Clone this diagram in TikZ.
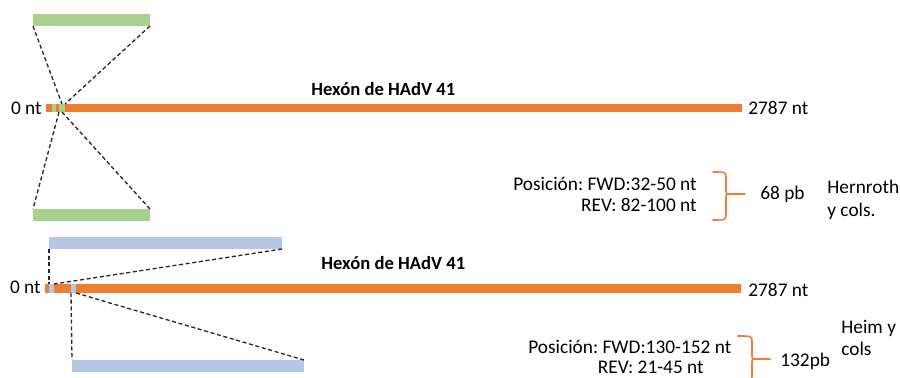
\documentclass[tikz,border=0pt]{standalone}
\usepackage{fontspec}
\setmainfont{Carlito}
\usetikzlibrary{fit}
\frenchspacing

\definecolor{hexorange}{HTML}{ED7D31}
\definecolor{primgreen}{HTML}{A9D18E}
\definecolor{primblue}{HTML}{B4C7E7}

\tikzset{
	block/.style={inner sep=0pt, outer sep=0pt, draw=none},
	dashline/.style={dashed, dash pattern=on 2.3pt off 1.5pt, line width=0.75pt, black!85},
	lbl/.style={inner sep=0pt, font=\fontsize{11}{13}\selectfont},
	title/.style={lbl, font=\fontsize{10.6}{13}\selectfont\bfseries},
	bracestyle/.style={draw=hexorange, line width=0.9pt, line cap=round}
}

\begin{document}
\begin{tikzpicture}[x=0.02cm, y=-0.02cm]
\useasboundingbox (0,0) rectangle (900,378);
\clip (0,0) rectangle (900,378);

% upper gene: Hernroth primers
\node[block, fill=hexorange, fit={(46,104) (742,112)}] (bar1) {};
\node[block, fill=primgreen, fit={(52,104) (56,112)}] (gb1) {};
\node[block, fill=primgreen, fit={(59,104) (65,112)}] (gb2) {};
\node[block, fill=primgreen, fit={(33,14) (150,26)}] (gtop) {};
\node[block, fill=primgreen, fit={(33,209) (150,221)}] (gbot) {};

\draw[dashline] (gtop.south west) -- (gb2.north);
\draw[dashline] (gtop.south east) -- (gb2.north east);
\draw[dashline] (gb2.south west) -- (gbot.north west);
\draw[dashline] (gb2.south) -- (gbot.north east);

\node[lbl, anchor=east] (zero1) at (42,108) {0 nt};
\node[lbl, anchor=west] (end1) at (748,108) {2787 nt};
\node[title, anchor=west] (title1) at (311,89) {Hexón de HAdV 41};
\node[lbl, anchor=west] (pos1) at (513,184) {Posición: FWD:32-50 nt};
\node[lbl, anchor=east] (rev1) at (697,205) {REV: 82-100 nt};
\node[lbl, anchor=west] (pb1) at (760,194) {68 pb};
\node[lbl, anchor=west, align=left] (ref1) at (827,200) {Hernroth\\y cols.};

% lower gene: Heim primers
\node[block, fill=hexorange, fit={(45,284) (741,293)}] (bar2) {};
\node[block, fill=primblue, fit={(49,284) (54,293)}] (bb1) {};
\node[block, fill=primblue, fit={(71,284) (76,293)}] (bb2) {};
\node[block, fill=primblue, fit={(49,237) (282,249)}] (btop) {};
\node[block, fill=primblue, fit={(72,360) (304,372)}] (bbot) {};

\draw[dashline] (btop.south west) -- (bb1.north west);
\draw[dashline] (btop.south east) -- (bb1.north east);
\draw[dashline] (bb2.south west) -- (bbot.north west);
\draw[dashline] (bb2.south east) -- (bbot.north east);

\node[lbl, anchor=east] (zero2) at (41,287) {0 nt};
\node[lbl, anchor=west] (end2) at (748,290) {2787 nt};
\node[title, anchor=west] (title2) at (321,263) {Hexón de HAdV 41};
\node[lbl, anchor=west] (pos2) at (528,347) {Posición: FWD:130-152 nt};
\node[lbl, anchor=east] (rev2) at (704,367) {REV: 21-45 nt};
\node[lbl, anchor=west] (pb2) at (780,361) {132pb};
\node[lbl, anchor=west, align=left] (ref2) at (841,338) {Heim y\\cols};

% braces
\foreach \xa/\xb/\xc/\ya/\yb/\yc in {713/726/745/172/194/220, 738/752/770/336/359/382}
{
	\draw[bracestyle] (\xa,\ya) .. controls (\xb,\ya) .. (\xb,\ya+6) -- (\xb,\yb-4) .. controls (\xb,\yb) .. (\xb+6,\yb) -- (\xc,\yb);
	\draw[bracestyle] (\xa,\yc) .. controls (\xb,\yc) .. (\xb,\yc-6) -- (\xb,\yb+4) .. controls (\xb,\yb) .. (\xb+6,\yb);
}

\end{tikzpicture}
\end{document}
